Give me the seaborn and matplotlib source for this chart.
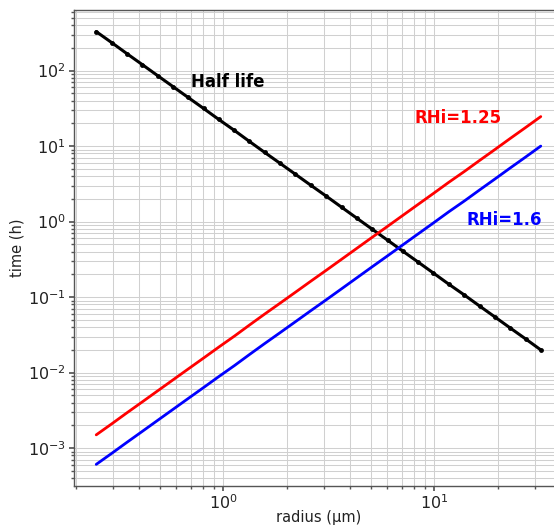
import matplotlib
matplotlib.use("Agg")
import matplotlib.pyplot as plt
import seaborn as sns
import pandas as pd

# Ice crystal radius (µm), log-spaced sample points
radius = [0.25, 0.296, 0.349, 0.413, 0.488, 0.577, 0.682, 0.807, 0.953, 1.13,
          1.33, 1.57, 1.86, 2.20, 2.60, 3.08, 3.64, 4.30, 5.08, 6.01,
          7.10, 8.39, 9.92, 11.7, 13.9, 16.4, 19.4, 22.9, 27.1, 32.0]

# Half life (h)
half_life = [327.7, 234.5, 167.9, 120.1, 85.9, 61.5, 44.0, 31.5, 22.5, 16.1,
             11.54, 8.26, 5.91, 4.23, 3.03, 2.17, 1.55, 1.109, 0.794, 0.568,
             0.406, 0.291, 0.208, 0.149, 0.1066, 0.0763, 0.0546, 0.0391, 0.0280, 0.0200]

# Growth time (h) at RHi = 1.25
growth_125 = [0.00150, 0.002097, 0.002929, 0.004093, 0.005720, 0.007993, 0.01117, 0.01561, 0.02181, 0.03048,
              0.04259, 0.05952, 0.08318, 0.1162, 0.1624, 0.2270, 0.3172, 0.4433, 0.6194, 0.8654,
              1.209, 1.690, 2.362, 3.300, 4.612, 6.446, 9.006, 12.59, 17.59, 24.58]

# Growth time (h) at RHi = 1.6
growth_16 = [0.000610, 0.000853, 0.001191, 0.001665, 0.002327, 0.003252, 0.004544, 0.006350, 0.008873, 0.01240,
             0.01733, 0.02422, 0.03384, 0.04729, 0.06608, 0.09234, 0.1290, 0.1803, 0.2520, 0.3521,
             0.4920, 0.6876, 0.9608, 1.343, 1.876, 2.622, 3.664, 5.120, 7.154, 10.00]

df = pd.DataFrame({"radius": radius, "half": half_life,
                   "g125": growth_125, "g16": growth_16})

sns.set_theme(style="white")
plt.rcParams["font.family"] = ["DejaVu Sans"]

fig = plt.figure(figsize=(5.54, 5.25), dpi=100)
ax = fig.add_axes([74 / 554, 39 / 525, 489 / 554, 476 / 525])

sns.lineplot(data=df, x="radius", y="half", ax=ax, color="black", lw=2.2,
             marker="o", markersize=3.5, markeredgewidth=0, estimator=None, sort=False)
sns.lineplot(data=df, x="radius", y="g125", ax=ax, color="red", lw=2.0,
             estimator=None, sort=False)
sns.lineplot(data=df, x="radius", y="g16", ax=ax, color="blue", lw=2.0,
             estimator=None, sort=False)

ax.set_xscale("log")
ax.set_yscale("log")
ax.margins(0.05)

ax.grid(True, which="both", color="#d0d0d0", lw=0.75)
ax.set_axisbelow(True)

for side in ["left", "bottom", "top", "right"]:
    ax.spines[side].set_visible(True)
    ax.spines[side].set_color("#555555")
    ax.spines[side].set_linewidth(1.0)

ax.tick_params(axis="both", which="major", labelsize=11.5, length=3.5,
               color="#555555", labelcolor="#222222", left=True, bottom=True)
ax.tick_params(axis="x", which="major", pad=1.5)
ax.tick_params(axis="y", which="major", pad=2.5)
ax.tick_params(axis="both", which="minor", length=2, color="#555555",
               left=True, bottom=True)

ax.set_xlabel("radius (µm)", fontsize=10.5, color="#222222", labelpad=-1.5)
ax.set_ylabel("time (h)", fontsize=10.5, color="#222222", labelpad=2)

ax.text(0.70, 70, "Half life", fontsize=12, fontweight="bold", color="black",
        va="center", ha="left")
ax.text(8.1, 23.5, "RHi=1.25", fontsize=12, fontweight="bold", color="red",
        va="center", ha="left")
ax.text(14.2, 1.05, "RHi=1.6", fontsize=12, fontweight="bold", color="blue",
        va="center", ha="left")

fig.savefig("out.png", dpi=100)
